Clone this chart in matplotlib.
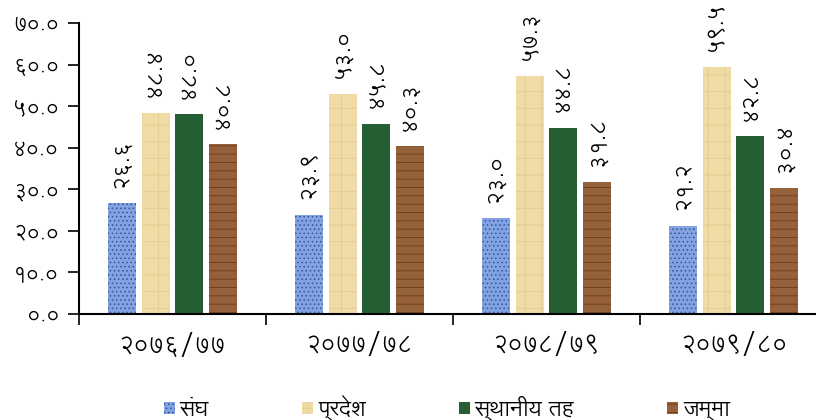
import numpy as np
import matplotlib
matplotlib.use("Agg")
import matplotlib.pyplot as plt

# ---------------------
# Data
# ---------------------
years = ["2076/77", "2077/78", "2078/79", "2079/80"]
series_names = ["संघ", "प्रदेश", "स्थानीय तह", "जम्मा"]
sangh = [26.6, 23.9, 23.0, 21.2]
pradesh = [48.4, 53.0, 57.3, 59.5]
sthaniya = [48.0, 45.8, 44.8, 42.8]
jamma = [40.8, 40.3, 31.8, 30.4]
y_ticks = [0, 10, 20, 30, 40, 50, 60, 70]

# ---------------------
# Fonts / Nepali digits
# ---------------------
plt.rcParams["font.family"] = ["Lohit Devanagari", "Noto Sans Devanagari", "DejaVu Sans"]
plt.rcParams["hatch.linewidth"] = 0.6

DIGITS = str.maketrans("0123456789", "०१२३४५६७८९")


def nep(s):
    return str(s).translate(DIGITS)


# ---------------------
# Plot
# ---------------------
fig = plt.figure(figsize=(8.16, 4.2), dpi=100)
ax = fig.add_axes([79 / 816, 106 / 420, 748 / 816, 291 / 420])

x = np.arange(len(years))
width = 0.15
step = 0.18
styles = [
    dict(color="#82a2e2", edgecolor="#34549e", hatch="...."),
    dict(color="#f0dba6", edgecolor="#e2c98e", hatch="+"),
    dict(color="#245e32", edgecolor="#1a4a26", hatch=None),
    dict(color="#94613a", edgecolor="#6a3e1c", hatch="--"),
]
all_values = [sangh, pradesh, sthaniya, jamma]

for i, (vals, st) in enumerate(zip(all_values, styles)):
    pos = x + (i - 1.5) * step
    bars = ax.bar(pos, vals, width, color=st["color"], edgecolor=st["edgecolor"],
                  hatch=st["hatch"], linewidth=0, label=series_names[i])
    for b, v in zip(bars, vals):
        ax.text(b.get_x() + b.get_width() / 2, v + 3.7, nep("%.1f" % v),
                rotation=90, ha="center", va="bottom", fontsize=16)

ax.set_xlim(-0.5, 3.5)
ax.set_ylim(0, 70)
ax.set_yticks(y_ticks)
ax.set_yticklabels([nep("%.1f" % t) for t in y_ticks], fontsize=15)
ax.set_xticks(x)
ax.set_xticklabels([nep(y) for y in years], fontsize=17)
ax.set_xticks(np.arange(-0.5, 3.6, 1), minor=True)
ax.tick_params(axis="x", which="major", length=0, pad=14)
ax.tick_params(axis="x", which="minor", length=8, width=1.2, direction="out")
ax.tick_params(axis="y", length=8, width=1.2, direction="out", pad=6)

for side in ["top", "right"]:
    ax.spines[side].set_visible(False)
for side in ["left", "bottom"]:
    ax.spines[side].set_linewidth(1.5)

ax.legend(loc="center", bbox_to_anchor=(447 / 816, 12 / 420),
          bbox_transform=fig.transFigure, ncol=4, frameon=False,
          fontsize=16, handlelength=0.5, handleheight=0.5,
          columnspacing=4.2, handletextpad=0.2)

fig.savefig("out.png", dpi=100)
